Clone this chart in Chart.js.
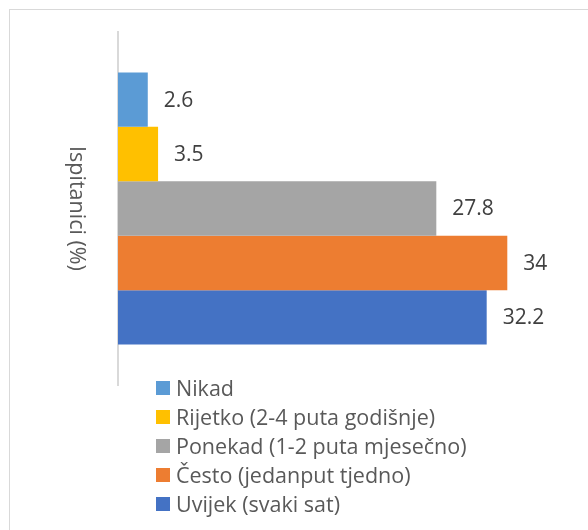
<!DOCTYPE html>
<html>
<head>
<meta charset="utf-8">
<script src="https://cdn.jsdelivr.net/npm/chart.js@4/dist/chart.umd.min.js"></script>
<style>
  html, body { margin: 0; padding: 0; background: #fff; overflow: hidden; }
  #wrap { position: relative; width: 588px; height: 530px; overflow: hidden; }
  #frame { position: absolute; left: 9px; top: 9px; width: 700px; height: 700px; border: 1.5px solid #d9d9d9; box-sizing: border-box; }
  #c { position: absolute; left: 0; top: 0; }
  #legend { position: absolute; left: 156px; top: 373px; font-family: "Open Sans", sans-serif; font-size: 21.5px; color: #595959; }
  .item { display: flex; align-items: center; height: 29px; white-space: nowrap; }
  .box { width: 14px; height: 14px; margin-right: 6px; flex: none; }
</style>
</head>
<body>
<div id="wrap">
  <div id="frame"></div>
  <canvas id="c" width="588" height="530"></canvas>
  <div id="legend"></div>
</div>
<script>
const categories = [''];
const seriesNames = ['Nikad', 'Rijetko (2-4 puta godišnje)', 'Ponekad (1-2 puta mjesečno)', 'Često (jedanput tjedno)', 'Uvijek (svaki sat)'];
const nikad = [2.6];
const rijetko = [3.5];
const ponekad = [27.8];
const cesto = [34];
const uvijek = [32.2];
const axisTitle = 'Ispitanici (%)';
const colors = ['#5B9BD5', '#FFC000', '#A5A5A5', '#ED7D31', '#4472C4'];
const seriesValues = [nikad, rijetko, ponekad, cesto, uvijek];

const FONT = '"Open Sans", sans-serif';

const labelPlugin = {
  id: 'valueLabels',
  afterDatasetsDraw(chart) {
    const ctx = chart.ctx;
    ctx.save();
    ctx.font = '21px ' + FONT;
    ctx.fillStyle = '#404040';
    ctx.textAlign = 'left';
    ctx.textBaseline = 'middle';
    chart.data.datasets.forEach((ds, i) => {
      const meta = chart.getDatasetMeta(i);
      meta.data.forEach((bar, j) => {
        ctx.fillText(String(ds.data[j]), bar.x + 16, bar.y + 1);
      });
    });
    ctx.restore();
  }
};

const titlePlugin = {
  id: 'axisTitleDown',
  afterDraw(chart) {
    const ctx = chart.ctx;
    const a = chart.chartArea;
    ctx.save();
    ctx.translate(76, (a.top + a.bottom) / 2);
    ctx.rotate(Math.PI / 2);
    ctx.font = '21.5px ' + FONT;
    ctx.fillStyle = '#595959';
    ctx.textAlign = 'center';
    ctx.textBaseline = 'middle';
    ctx.fillText(axisTitle, 0, 0);
    ctx.restore();
  }
};

const chart = new Chart(document.getElementById('c'), {
  type: 'bar',
  data: {
    labels: categories,
    datasets: seriesNames.map((name, i) => ({
      label: name,
      data: seriesValues[i],
      backgroundColor: colors[i],
      borderWidth: 0,
      categoryPercentage: 0.771,
      barPercentage: 1.0
    }))
  },
  options: {
    indexAxis: 'y',
    responsive: false,
    animation: false,
    devicePixelRatio: 1,
    layout: { padding: { left: 117, top: 32, right: 12, bottom: 145 } },
    plugins: {
      legend: { display: false },
      tooltip: { enabled: false }
    },
    scales: {
      x: {
        display: false,
        min: 0,
        max: 40
      },
      y: {
        display: true,
        grid: { display: false, drawTicks: false },
        ticks: { display: false },
        border: { display: true, color: '#d9d9d9', width: 2 },
        afterFit(scale) { scale.width = 1; }
      }
    }
  },
  plugins: [labelPlugin, titlePlugin]
});

const legendEl = document.getElementById('legend');
chart.data.datasets.forEach(ds => {
  const item = document.createElement('div');
  item.className = 'item';
  const box = document.createElement('span');
  box.className = 'box';
  box.style.background = ds.backgroundColor;
  const txt = document.createElement('span');
  txt.textContent = ds.label;
  item.appendChild(box);
  item.appendChild(txt);
  legendEl.appendChild(item);
});
</script>
</body>
</html>
